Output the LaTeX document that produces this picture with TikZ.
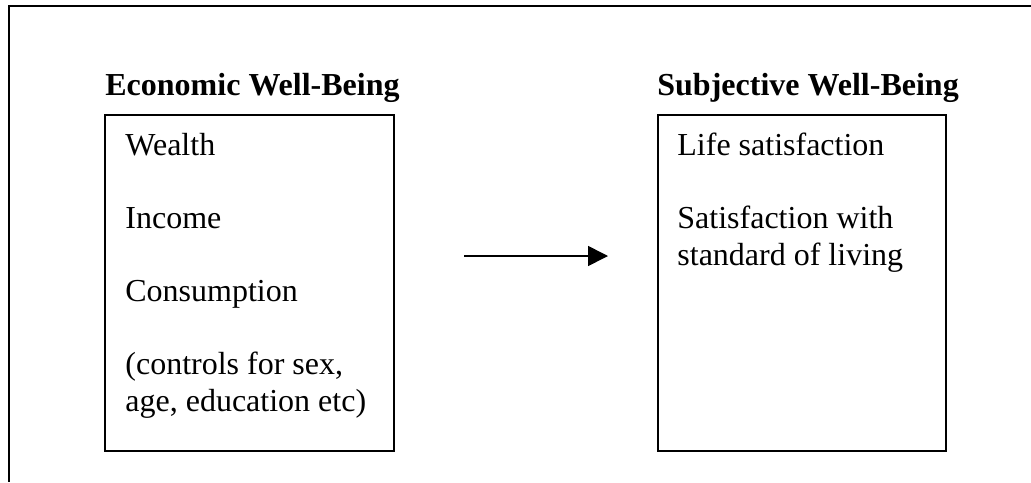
\documentclass[tikz,border=0pt]{standalone}
\usepackage{fontspec}
\setmainfont{Liberation Serif}
\usetikzlibrary{arrows.meta}
\begin{document}
\begin{tikzpicture}[x=0.5pt,y=-0.5pt,
  frameline/.style={line width=1pt},
  boxline/.style={line width=1pt},
  txt/.style={anchor=base west,inner sep=0pt,font=\fontsize{16}{18.4}\selectfont},
  head/.style={anchor=base west,inner sep=0pt,font=\fontsize{16}{18.4}\selectfont\bfseries},
  conn/.style={line width=0.8pt,-{Triangle[length=10pt,width=10pt]}}]
\useasboundingbox (0,0) rectangle (1031,482);
\draw[frameline] (1031,6) -- (9,6) -- (9,482);
% boxes
\node[draw,boxline,minimum width=144.5pt,minimum height=168pt,inner sep=0pt,anchor=north west] (eco) at (104,114) {};
\node[draw,boxline,minimum width=144pt,minimum height=168pt,inner sep=0pt,anchor=north west] (swb) at (657,114) {};
% headings
\node[head] (ecoh) at (105,95) {Economic Well-Being};
\node[head] (swbh) at (657,95) {Subjective Well-Being};
% left text
\node[txt] (t1) at (125,155) {Wealth};
\node[txt] (t2) at (125,228) {Income};
\node[txt] (t3) at (125,301) {Consumption};
\node[txt] (t4) at (125,374) {(controls for sex,};
\node[txt] (t5) at (125,411) {age, education etc)};
% right text
\node[txt] (r1) at (677,155) {Life satisfaction};
\node[txt] (r2) at (677,228) {Satisfaction with};
\node[txt] (r3) at (677,265) {standard of living};
% arrow
\coordinate (as) at (464,256);
\coordinate (ae) at (608,256);
\draw[conn] (as) -- (ae);
\end{tikzpicture}
\end{document}
